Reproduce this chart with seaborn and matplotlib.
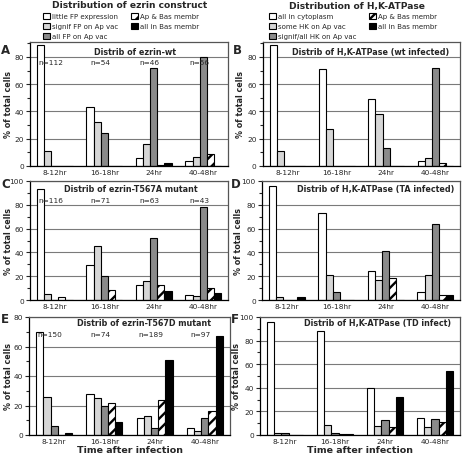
import pandas as pd
import matplotlib
matplotlib.use("Agg")
import matplotlib.pyplot as plt
from matplotlib.ticker import MultipleLocator
import seaborn as sns

sns.set_style("white")
plt.rcParams['font.family'] = ['DejaVu Sans']
plt.rcParams['hatch.linewidth'] = 1.7

times = ["8-12hr", "16-18hr", "24hr", "40-48hr"]
ezrin_cats = ["little FP expression", "signif FP on Ap vac", "all FP on Ap vac",
              "Ap & Bas membr", "all in Bas membr"]
hk_cats = ["all in cytoplasm", "some HK on Ap vac", "signif/all HK on Ap vac",
           "Ap & Bas membr", "all in Bas membr"]
colors = ["#ffffff", "#d6d6d6", "#8a8a8a", "#ffffff", "#000000"]

# values per category, one entry per time point
A_vals = [[89, 43, 6, 3.5], [11, 32, 16, 6.5], [0, 24, 72, 80], [0, 0, 1, 8.5], [0, 0, 2.5, 0]]
B_vals = [[89, 71, 49, 4], [11, 27, 38, 6], [0, 0, 13, 72], [0, 0, 0, 2], [0, 0, 0, 0]]
C_vals = [[93, 29, 13, 4.5], [5, 45, 16, 3], [0, 20, 52, 78], [2.5, 8, 13, 10], [0, 0, 7.5, 6]]
D_vals = [[96, 73, 24, 7], [2.5, 21, 17, 21], [0, 7, 41, 64], [0, 0, 18.5, 4], [2.5, 0, 0, 4.5]]
E_vals = [[70, 28, 11.5, 5], [25.5, 25, 13, 3], [6, 19.5, 4.5, 11.5], [0, 22, 24, 16], [1.5, 9, 51, 67]]
F_vals = [[96, 88, 40, 14.5], [2, 8.5, 8, 7], [2, 1.5, 13, 13.5], [0, 0.5, 6.5, 11], [0, 0.5, 32, 54]]

A_n = ["n=112", "n=54", "n=46", "n=56"]
C_n = ["n=116", "n=71", "n=63", "n=43"]
E_n = ["n=150", "n=74", "n=189", "n=97"]

W, H = 465, 456
fig = plt.figure(figsize=(W / 100, H / 100), dpi=100)


def px_axes(left, right, top, bottom):
    return fig.add_axes([left / W, 1 - bottom / H, (right - left) / W, (bottom - top) / H])


def panel(ax, vals, cats, ymax, title, tx, ty, label_x, nlabels=None, ny=None, xlabel=False):
    rows = []
    for cat, series in zip(cats, vals):
        for t, v in zip(times, series):
            rows.append({"time": t, "cat": cat, "pct": v})
    df = pd.DataFrame(rows)
    sns.barplot(data=df, x="time", y="pct", hue="cat", order=times, hue_order=cats,
                palette=colors, saturation=1, edgecolor="black", linewidth=0.8,
                width=0.72, ax=ax, legend=False)
    for bar in ax.containers[3]:
        bar.set_hatch("///")
    ax.set_ylim(0, ymax)
    ax.set_xlim(-0.5, 3.5)
    ax.yaxis.set_major_locator(MultipleLocator(20))
    ax.yaxis.set_minor_locator(MultipleLocator(10))
    ax.yaxis.grid(True, which="major", color="#7a7a7a", lw=0.8)
    ax.set_axisbelow(True)
    ax.set_xticks(range(4))
    ax.set_xticklabels(times, fontsize=5.3)
    ax.set_xticks([0.5, 1.5, 2.5], minor=True)
    ax.tick_params(axis="x", which="major", length=0, pad=2)
    ax.tick_params(axis="x", which="minor", length=3, direction="out", width=0.8)
    ax.tick_params(axis="y", which="both", direction="out", labelsize=5.3, left=True, width=0.8, pad=1.5)
    ax.tick_params(axis="y", which="major", length=3)
    ax.tick_params(axis="y", which="minor", length=2)
    for s in ["left", "bottom"]:
        ax.spines[s].set_color("black")
        ax.spines[s].set_linewidth(0.9)
    for s in ["top", "right"]:
        ax.spines[s].set_color("#555555")
        ax.spines[s].set_linewidth(0.9)
    ax.set_ylabel("% of total cells", fontsize=5.8, fontweight="bold")
    ax.yaxis.set_label_coords(label_x, 0.5)
    if xlabel:
        ax.set_xlabel("Time after infection", fontsize=6.8, fontweight="bold", labelpad=1)
    else:
        ax.set_xlabel("")
    ax.text(tx, ty, title, transform=ax.transAxes, ha="center", va="center",
            fontsize=5.8, fontweight="bold")
    if nlabels:
        for i, lab in enumerate(nlabels):
            ax.text(i - 0.08, ny, lab, transform=ax.get_xaxis_transform(),
                    ha="center", va="center", fontsize=5.3)


axA = px_axes(30, 228, 43, 167)
axB = px_axes(263, 460, 43, 167)
axC = px_axes(30, 228, 182, 301)
axD = px_axes(262, 460, 182, 301)
axE = px_axes(29, 230, 318, 436)
axF = px_axes(260, 460, 318, 436)

panel(axA, A_vals, ezrin_cats, 91, "Distrib of ezrin-wt", 0.53, 0.92, -0.085, A_n, 0.84)
panel(axB, B_vals, hk_cats, 91, "Distrib of H,K-ATPase (wt infected)", 0.545, 0.92, -0.09)
panel(axC, C_vals, ezrin_cats, 100, "Distrib of ezrin-T567A mutant", 0.51, 0.94, -0.085, C_n, 0.84)
panel(axD, D_vals, hk_cats, 100, "Distrib of H,K-ATPase (TA infected)", 0.575, 0.94, -0.095)
panel(axE, E_vals, ezrin_cats, 80, "Distrib of ezrin-T567D mutant", 0.57, 0.95, -0.08, E_n, 0.86, xlabel=True)
panel(axF, F_vals, hk_cats, 100, "Distrib of H,K-ATPase (TD infect)", 0.587, 0.95, -0.095, xlabel=True)

for letter, x, y in [("A", 1, 44), ("B", 233, 44), ("C", 1, 178), ("D", 231, 178),
                     ("E", 1, 313), ("F", 231, 313)]:
    fig.text(x / W, 1 - y / H, letter, ha="left", va="top", fontsize=8.5, fontweight="bold")

fig.text(130 / W, 1 - 6 / H, "Distribution of ezrin construct", ha="center", va="center",
         fontsize=6.6, fontweight="bold")
fig.text(357 / W, 1 - 6 / H, "Distribution of H,K-ATPase", ha="center", va="center",
         fontsize=6.6, fontweight="bold")

for ax, cats, x0 in [(axA, ezrin_cats, 43), (axB, hk_cats, 269)]:
    handles = [c for c in ax.containers]
    fig.legend(handles, cats, loc="upper left", bbox_to_anchor=(x0 / W, 1 - 14 / H),
               ncol=2, frameon=False, fontsize=5, handlelength=1.0, handleheight=1.0,
               handletextpad=0.3, columnspacing=1.8, labelspacing=0.5, borderpad=0,
               borderaxespad=0)

fig.savefig("out.png", dpi=100)
